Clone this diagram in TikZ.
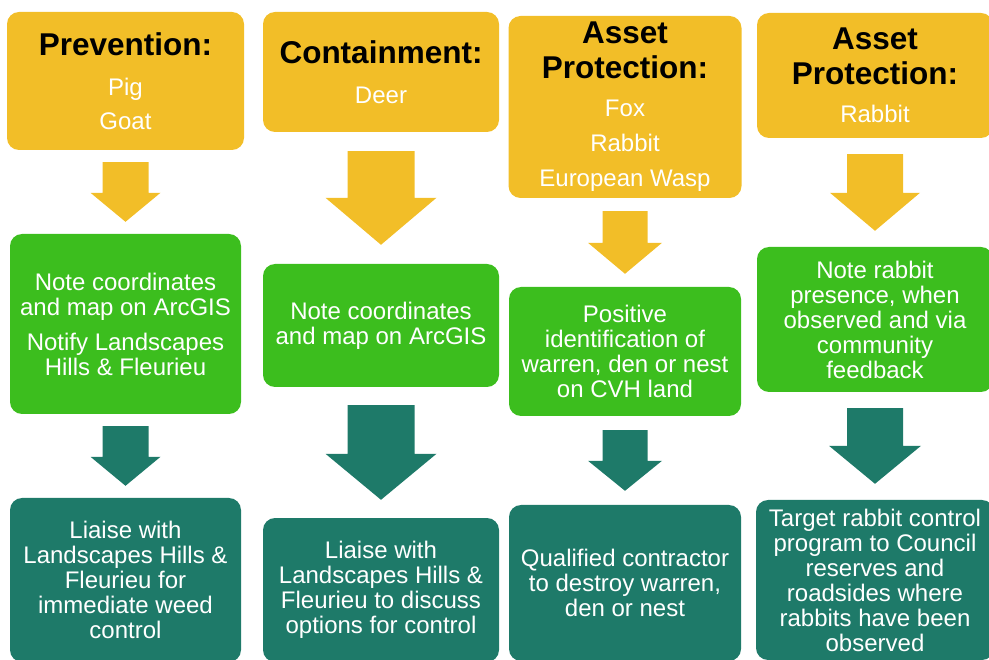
\documentclass[tikz,border=0pt]{standalone}
\usepackage{fontspec}
\setmainfont{Liberation Sans}
\usetikzlibrary{calc}

\definecolor{pestyellow}{RGB}{242,190,40}
\definecolor{pestgreen}{RGB}{60,190,30}
\definecolor{pestteal}{RGB}{30,122,105}

% 標題字型
\newcommand{\titlefont}{\fontsize{31.5}{35}\selectfont\bfseries\color{black}}

% 方塊箭頭: #1 顏色, #2 起點, #3 終點, #4 箭身半寬, #5 箭頭半寬, #6 箭頭長, #7 間距
\newcommand{\blockarrow}[7]{%
    \fill[#1] let \p1=(#2.south), \p2=(#3.north) in
        ({\x1-#4pt},{\y1-#7pt}) -- ({\x1+#4pt},{\y1-#7pt})
        -- ({\x1+#4pt},{\y2+#7pt+#6pt}) -- ({\x1+#5pt},{\y2+#7pt+#6pt})
        -- (\x1,{\y2+#7pt})
        -- ({\x1-#5pt},{\y2+#7pt+#6pt}) -- ({\x1-#4pt},{\y2+#7pt+#6pt}) -- cycle;}

\begin{document}
\begin{tikzpicture}[x=1pt, y=-1pt,
        % 定義通用樣式
        box/.style={rectangle, rounded corners=12pt, inner sep=2pt, align=center,
            text=white, font=\fontsize{24}{25}\selectfont}, % 方框樣式
        yellow box/.style={box, fill=pestyellow}, % 類別
        green box/.style={box, fill=pestgreen}, % 記錄
        teal box/.style={box, fill=pestteal} % 行動
    ]
        \clip (0,0) rectangle (989,660);

        % --- 第一欄: Prevention ---
        \begin{scope}[shift={(125.5,0)}]
            % 1. 方框
            \node[yellow box, minimum width=237pt, minimum height=138pt] (yel1) at (0,81)
                {\titlefont Prevention:\\[15pt] Pig\\[9pt] Goat};
            \node[green box, minimum width=231pt, minimum height=180pt] (grn1) at (0,324)
                {Note coordinates\\and map on ArcGIS\\[10pt] Notify Landscapes\\Hills \& Fleurieu};
            \node[teal box, minimum width=231pt, minimum height=164pt] (teal1) at (0,580)
                {Liaise with\\Landscapes Hills \&\\Fleurieu for\\immediate weed\\control};

            % 2. 箭頭
            \blockarrow{pestyellow}{yel1}{grn1}{23}{35}{29}{12}
            \blockarrow{pestteal}{grn1}{teal1}{23}{35}{29}{12}
        \end{scope}

        % --- 第二欄: Containment ---
        \begin{scope}[shift={(381,0)}]
            % 1. 方框
            \node[yellow box, minimum width=236pt, minimum height=120pt] (yel2) at (0,72)
                {\titlefont Containment:\\[15pt] Deer};
            \node[green box, minimum width=236pt, minimum height=123pt] (grn2) at (0,325.5)
                {Note coordinates\\and map on ArcGIS};
            \node[teal box, minimum width=236pt, minimum height=144pt] (teal2) at (0,590)
                {Liaise with\\Landscapes Hills \&\\Fleurieu to discuss\\options for control};

            % 2. 箭頭
            \blockarrow{pestyellow}{yel2}{grn2}{33.5}{55.5}{47}{19}
            \blockarrow{pestteal}{grn2}{teal2}{33.5}{55.5}{46}{18}
        \end{scope}

        % --- 第三欄: Asset Protection (Fox, Rabbit, Wasp) ---
        \begin{scope}[shift={(625,0)}]
            % 1. 方框
            \node[yellow box, minimum width=233pt, minimum height=182pt] (yel3) at (0,107)
                {\titlefont Asset\\[10pt] \titlefont Protection:\\[13pt] Fox\\[10pt] Rabbit\\[10pt] European Wasp};
            \node[green box, minimum width=232pt, minimum height=129pt] (grn3) at (0,351.5)
                {Positive\\identification of\\warren, den or nest\\on CVH land};
            \node[teal box, minimum width=232pt, minimum height=156pt] (teal3) at (0,583)
                {Qualified contractor\\to destroy warren,\\den or nest};

            % 2. 箭頭
            \blockarrow{pestyellow}{yel3}{grn3}{22.5}{37}{31}{13}
            \blockarrow{pestteal}{grn3}{teal3}{22.5}{37}{30}{14}
        \end{scope}

        % --- 第四欄: Asset Protection (Rabbit) ---
        \begin{scope}[shift={(875,0)}]
            % 1. 方框
            \node[yellow box, minimum width=236pt, minimum height=125pt] (yel4) at (0,75.5)
                {\titlefont Asset\\[10pt] \titlefont Protection:\\[13pt] Rabbit};
            \node[green box, minimum width=236pt, minimum height=145pt] (grn4) at (0,319.5)
                {Note rabbit\\presence, when\\observed and via\\community\\feedback};
            \node[teal box, minimum width=238pt, minimum height=160pt] (teal4) at (0,580)
                {Target rabbit control\\program to Council\\reserves and\\roadsides where\\rabbits have been\\observed};

            % 2. 箭頭
            \blockarrow{pestyellow}{yel4}{grn4}{28}{45}{38}{16}
            \blockarrow{pestteal}{grn4}{teal4}{28}{46}{38}{16}
        \end{scope}

    \end{tikzpicture}
\end{document}
